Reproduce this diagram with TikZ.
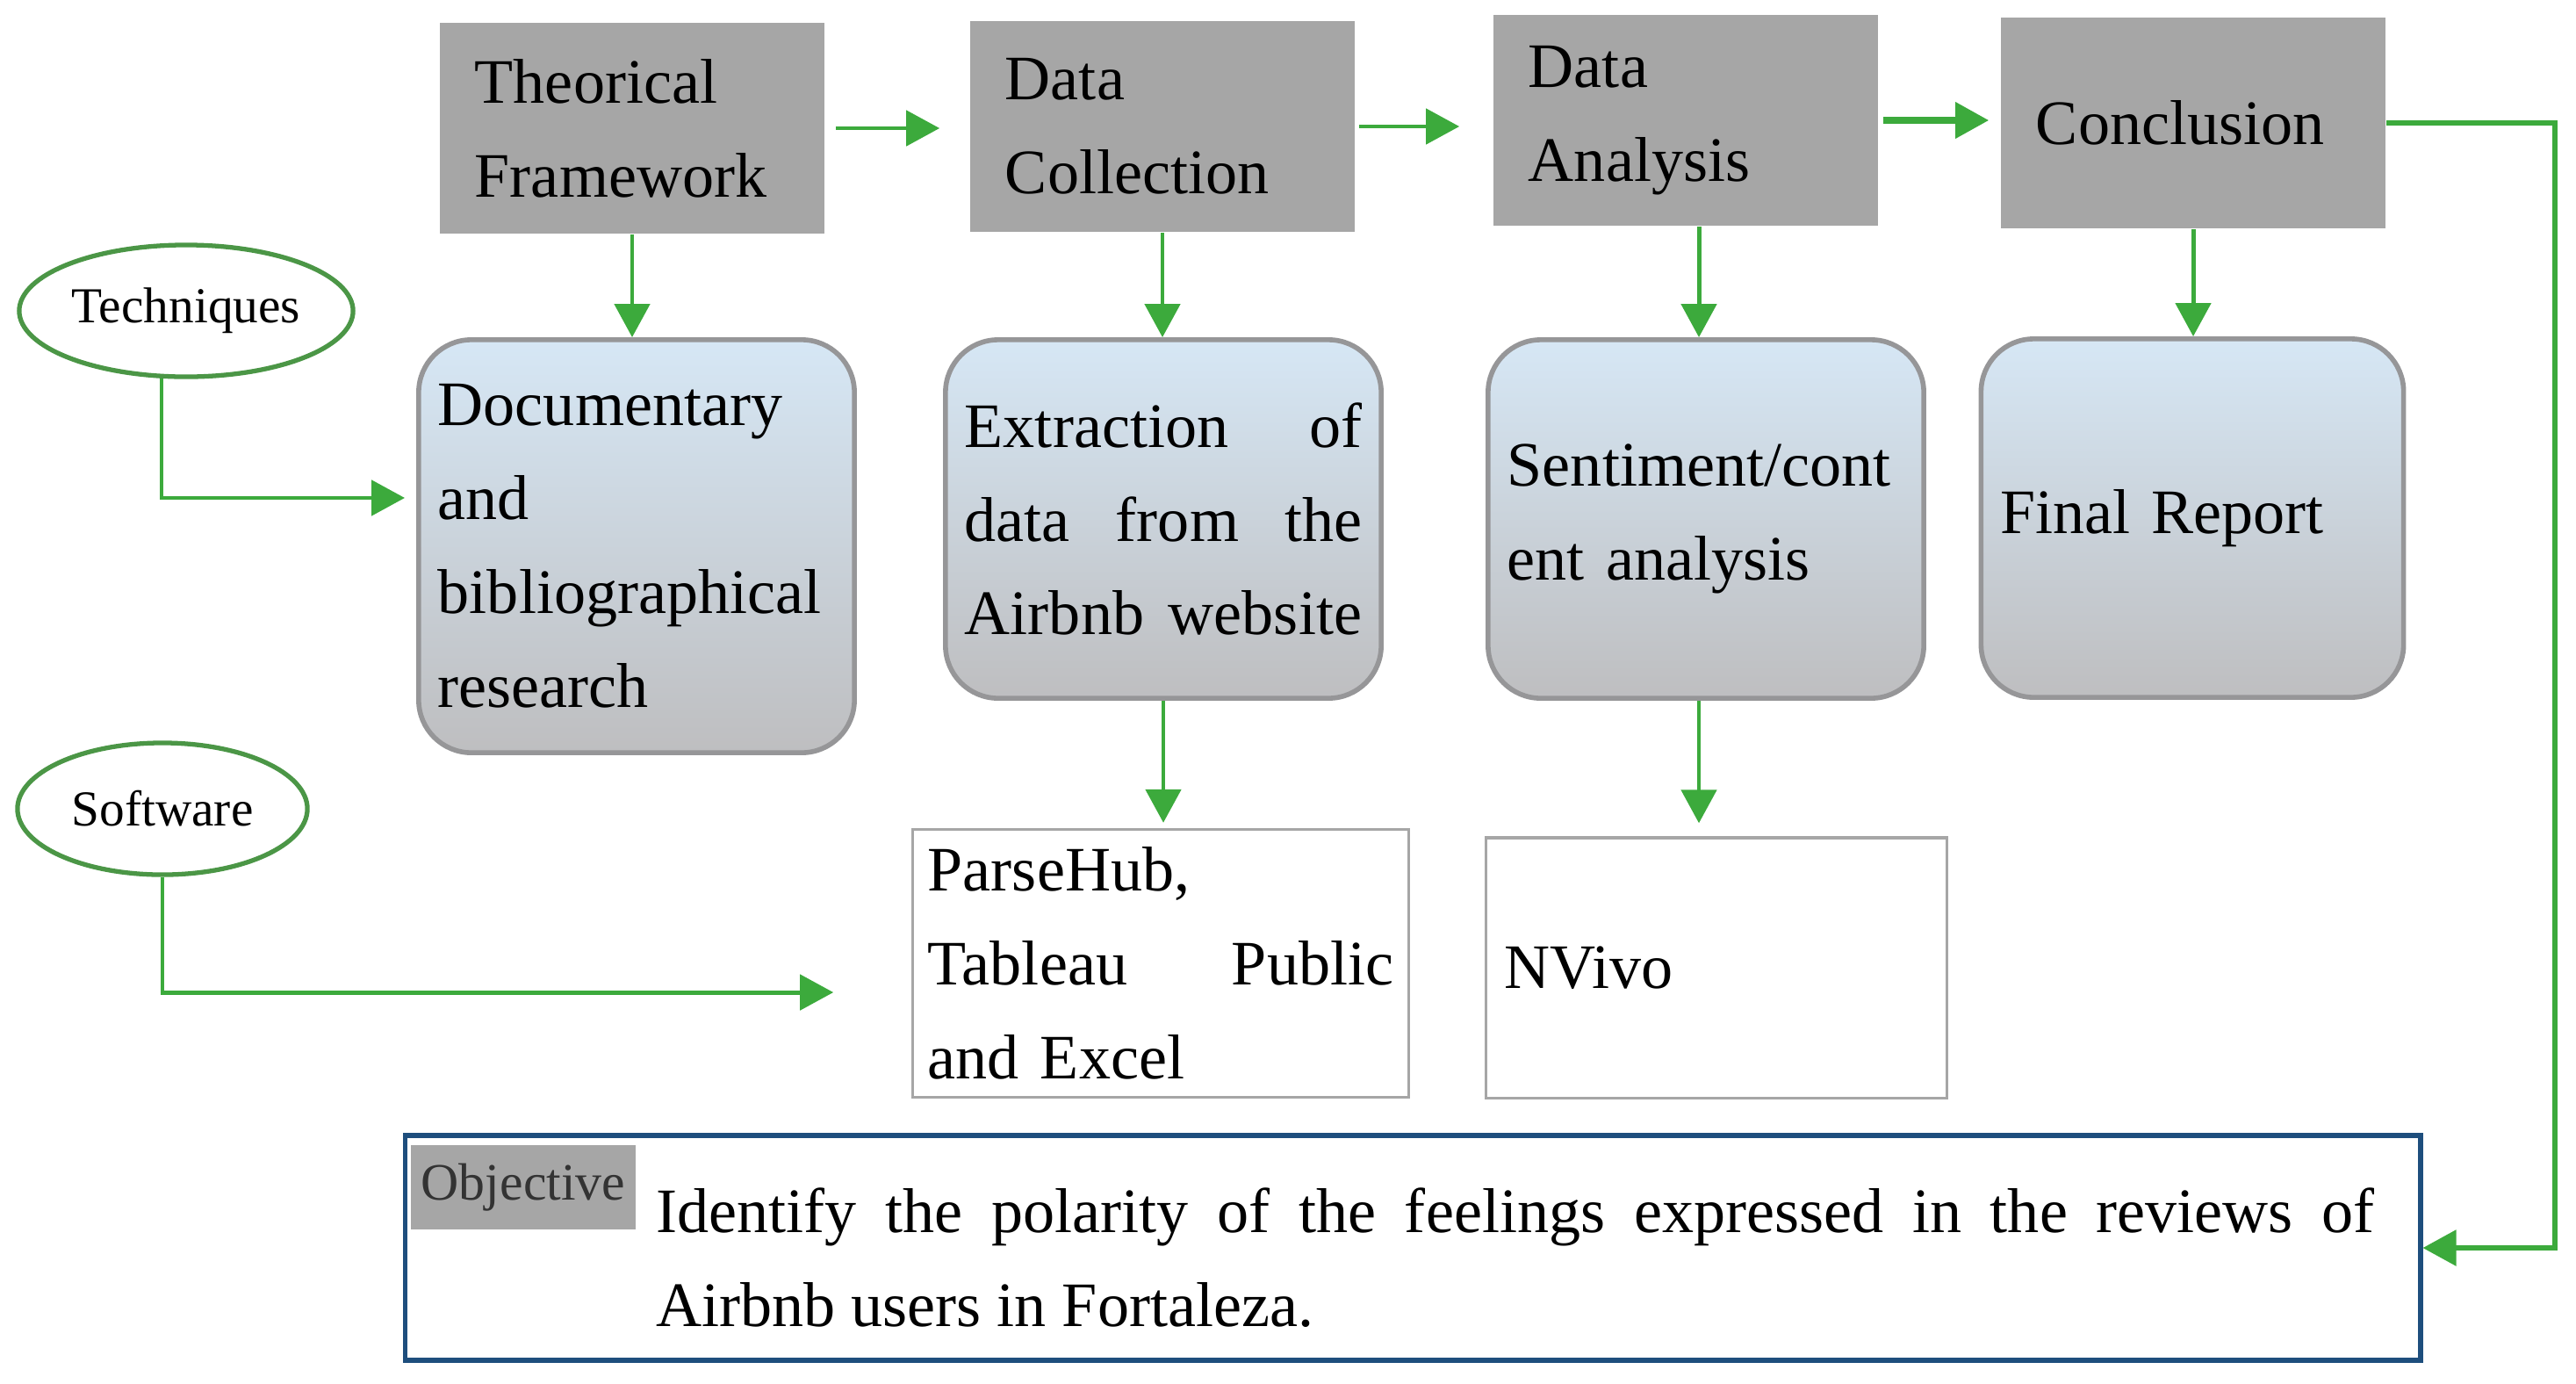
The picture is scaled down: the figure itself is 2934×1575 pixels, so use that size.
\documentclass[tikz,border=0pt]{standalone}
\usepackage{fontspec}
\setmainfont{Liberation Serif}
\usetikzlibrary{positioning,shapes.geometric,arrows.meta}
\definecolor{stagegray}{RGB}{166,166,166}
\definecolor{boxtop}{RGB}{214,231,245}
\definecolor{boxbot}{RGB}{190,190,192}
\definecolor{boxedge}{RGB}{150,150,152}
\definecolor{flowgreen}{RGB}{60,170,60}
\definecolor{ovalgreen}{RGB}{75,150,70}
\definecolor{objblue}{RGB}{30,78,125}
\newcommand{\bigtxt}{\fontsize{20.5}{30.4}\selectfont}
\newcommand{\smalltxt}{\fontsize{16.3}{19}\selectfont}

\begin{document}
\begin{tikzpicture}[x=0.01cm,y=-0.01cm,
    stage/.style={fill=stagegray,minimum width=4.38cm,minimum height=2.4cm,text width=3.58cm,inner xsep=0.4cm,align=left,font=\bigtxt},
    task/.style={draw=boxedge,line width=1.6pt,rounded corners=0.6cm,top color=boxtop,bottom color=boxbot,minimum height=4.08cm,text width=4.52cm,inner xsep=0.22cm,align=left,font={\bigtxt\hyphenpenalty=10000}},
    tool/.style={draw=gray!70,line width=0.9pt,align=left,font=\bigtxt},
    kind/.style={ellipse,draw=ovalgreen,line width=1.5pt,inner sep=0pt,minimum height=1.5cm,font=\smalltxt},
    flow/.style={draw=flowgreen,line width=1.4pt,-{Triangle[length=0.38cm,width=0.4cm]}}]

\useasboundingbox (0,0) rectangle (2934,1575);

\node[stage] (theory) at (720,146) {Theorical\\Framework};
\node[stage] (collect) at (1324,144) {Data\\Collection};
\node[stage] (analysis) at (1920,137) {Data\\Analysis};
\node[stage] (concl) at (2498,140) {Conclusion};

\node[task,minimum height=4.7cm] (docs) at (725,622) {Documentary\\and\\bibliographical\\research};
\node[task] (extract) at (1325,591) {Extraction\hfill of\\data\hfill from\hfill the\\Airbnb\hfill website};
\node[task] (sentim) at (1943,591) {Sentiment/cont\\ent analysis};
\node[task,text width=4.37cm] (report) at (2497,590) {Final Report};

\node[tool,text width=5.3cm,inner xsep=0.17cm,minimum height=3.05cm] (tools) at (1322,1097) {ParseHub,\\Tableau\hfill Public\\and Excel};
\node[tool,text width=4.82cm,inner xsep=0.21cm,minimum height=2.96cm] (nvivo) at (1955,1102) {NVivo};

\node[kind,minimum width=3.8cm] (techn) at (212,354) {Techniques};
\node[kind,minimum width=3.3cm] (softw) at (185,921) {Software};

\node[draw=objblue,line width=1.6pt,minimum width=22.94cm,minimum height=2.56cm] (obj) at (1609,1421) {};
\node[fill=stagegray,text=black!80,minimum width=2.56cm,minimum height=0.96cm,inner sep=0pt,font=\fontsize{17}{20}\selectfont] (objlabel) at (596,1352) {Objective};
\node[text width=19.56cm,align=justify,inner sep=0pt,font={\bigtxt\tolerance=9999\hyphenpenalty=10000}] (objtext) at (1726,1432) {Identify the polarity of the feelings expressed in the reviews of Airbnb users in Fortaleza.};

\draw[flow,shorten <=0.12cm,shorten >=0.34cm] (theory.east) -- (theory.east -| collect.west);
\draw[flow,shorten <=0.04cm,shorten >=0.38cm] (collect.east) -- (collect.east -| analysis.west);
\draw[flow,line width=2pt,shorten <=0.05cm,shorten >=0.13cm] (analysis.east) -- (analysis.east -| concl.west);
\coordinate (rail) at (2910,140);
\draw[flow,line width=1.6pt] (concl.east) -- (rail) |- (obj.east);

\draw[flow] (theory.south) -- (theory.south |- docs.north);
\draw[flow] (collect.south) -- (collect.south |- extract.north);
\draw[flow] ([xshift=0.15cm]analysis.south) -- ([xshift=0.15cm]analysis.south |- sentim.north);
\draw[flow] (concl.south) -- (concl.south |- report.north);
\draw[flow,shorten >=0.06cm] (extract.south) -- (extract.south |- tools.north);
\draw[flow,shorten >=0.15cm] ([xshift=-0.08cm]sentim.south) -- ([xshift=-0.08cm]sentim.south |- nvivo.north);

\draw[flow,shorten >=0.13cm] (techn.250) |- ([yshift=0.55cm]docs.west);
\draw[flow,shorten >=0.89cm] (softw.south) |- ([yshift=-0.33cm]tools.west);
\end{tikzpicture}
\end{document}
